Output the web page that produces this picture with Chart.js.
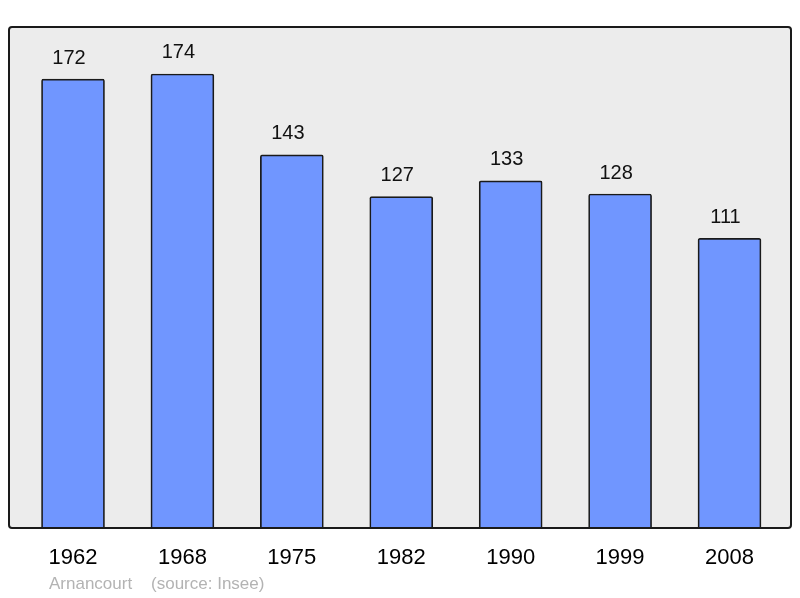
<!DOCTYPE html>
<html>
<head>
<meta charset="utf-8">
<script src="https://cdn.jsdelivr.net/npm/chart.js@4/dist/chart.umd.min.js"></script>
<style>
  html, body { margin: 0; padding: 0; background: #fff; }
  #wrap { width: 800px; height: 598px; }
</style>
</head>
<body>
<div id="wrap"><canvas id="chart" width="800" height="598"></canvas></div>
<script>
const years = ['1962', '1968', '1975', '1982', '1990', '1999', '2008'];
const population = [172, 174, 143, 127, 133, 128, 111];
const footer_text = 'Arnancourt    (source: Insee)';

// frame behind and over the plot area
const frame_plugin = {
  id: 'frame',
  beforeDraw(chart) {
    let ctx = chart.ctx, a = chart.chartArea;
    ctx.save();
    ctx.fillStyle = '#ececec';
    ctx.beginPath();
    ctx.roundRect(a.left, a.top, a.right - a.left, a.bottom - a.top, 3);
    ctx.fill();
    ctx.restore();
  },
  afterDatasetsDraw(chart) {
    let ctx = chart.ctx, a = chart.chartArea;
    ctx.save();
    ctx.strokeStyle = '#1a1a1a';
    ctx.lineWidth = 2;
    ctx.beginPath();
    ctx.roundRect(a.left, a.top, a.right - a.left, a.bottom - a.top, 3);
    ctx.stroke();
    // values above bars
    ctx.fillStyle = '#111';
    ctx.font = '20px "Liberation Sans", Arial, sans-serif';
    ctx.textAlign = 'center';
    ctx.textBaseline = 'middle';
    chart.getDatasetMeta(0).data.forEach((bar, i) => {
      ctx.fillText(String(population[i]), bar.x - 4, bar.y - 21);
    });
    // source line
    ctx.fillStyle = '#b3b3b3';
    ctx.font = '17px "Liberation Sans", Arial, sans-serif';
    ctx.textAlign = 'left';
    ctx.fillText(footer_text, 49, 584);
    ctx.restore();
  }
};

new Chart(document.getElementById('chart'), {
  type: 'bar',
  data: {
    datasets: [{
      data: population.map((v, i) => ({x: i, y: v})),
      backgroundColor: 'rgb(112,150,255)',
      borderColor: '#1a1a1a',
      borderWidth: 1.7,
      borderRadius: {topLeft: 2, topRight: 2},
      borderSkipped: 'bottom',
      barThickness: 63
    }]
  },
  options: {
    responsive: false,
    animation: false,
    layout: { padding: {left: 9, right: 9, top: 27, bottom: 0} },
    plugins: { legend: {display: false}, tooltip: {enabled: false} },
    scales: {
      x: {
        type: 'linear',
        min: -0.585,
        max: 6.562,
        offset: false,
        grid: { display: false, drawTicks: false },
        border: { display: false },
        afterBuildTicks: s => { s.ticks = years.map((y, i) => ({value: i})); },
        afterFit: s => { s.height = 70; },
        ticks: {
          padding: 17,
          color: '#000',
          font: { family: '"Liberation Sans", Arial, sans-serif', size: 22 },
          callback: v => years[v]
        }
      },
      y: {
        display: false,
        min: 0,
        max: 192
      }
    }
  },
  plugins: [frame_plugin]
});
</script>
</body>
</html>
